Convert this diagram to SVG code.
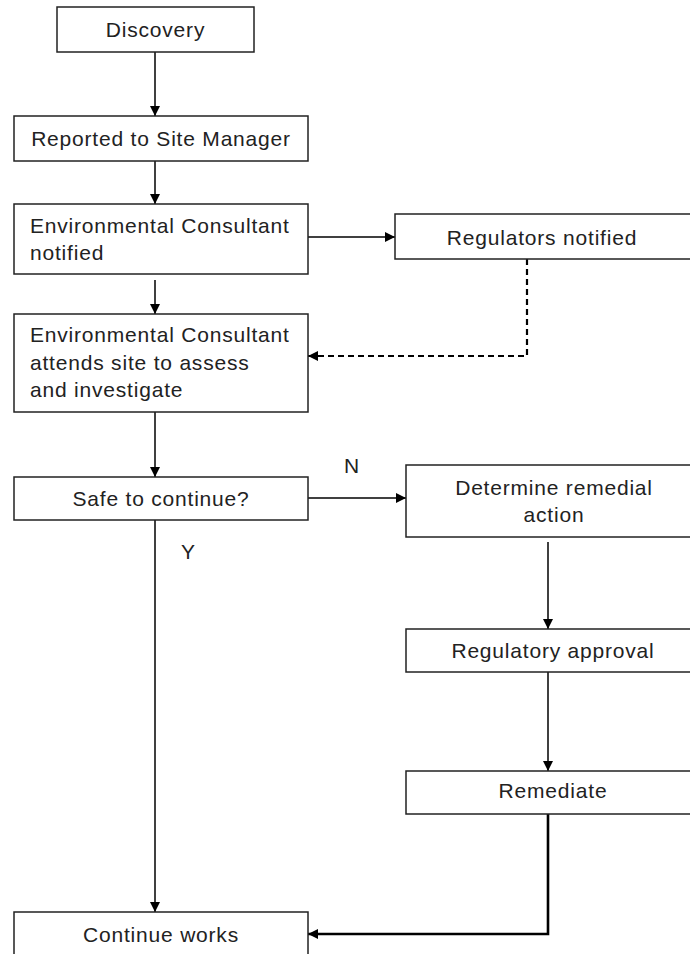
<svg xmlns="http://www.w3.org/2000/svg" width="690" height="954" viewBox="0 0 690 954">
<style>
.box{fill:#fff;stroke:#222;stroke-width:1.5}
.t{font-family:"Liberation Sans",Arial,sans-serif;font-size:21px;letter-spacing:0.8px;fill:#222}
.c{text-anchor:middle}
.ln{fill:none;stroke:#000;stroke-width:1.5}
.dash{stroke-width:2.2;stroke-dasharray:6 4}
.thick{stroke-width:2.6}
</style>
<defs>
<marker id="ah" viewBox="0 0 10 10" refX="10" refY="5" markerWidth="10" markerHeight="10" markerUnits="userSpaceOnUse" orient="auto">
<path d="M0,0 L10,5 L0,10 Z" fill="#000"/>
</marker>
</defs>
<rect width="690" height="954" fill="#fff"/>
<g id="connectors">
<path class="ln" d="M155,52 V116" marker-end="url(#ah)"/>
<path class="ln" d="M155,161 V204" marker-end="url(#ah)"/>
<path class="ln" d="M308,237 H395" marker-end="url(#ah)"/>
<path class="ln" d="M155,280 V314" marker-end="url(#ah)"/>
<path class="ln dash" d="M527,259 V356 H308" marker-end="url(#ah)"/>
<path class="ln" d="M155,412 V477" marker-end="url(#ah)"/>
<path class="ln" d="M308,498 H406" marker-end="url(#ah)"/>
<path class="ln" d="M155,520 V912" marker-end="url(#ah)"/>
<path class="ln" d="M548,542 V629" marker-end="url(#ah)"/>
<path class="ln" d="M548,672 V771" marker-end="url(#ah)"/>
<path class="ln thick" d="M548,814 V934 H308" marker-end="url(#ah)"/>
<text class="t" x="344" y="473">N</text>
<text class="t" x="181" y="559">Y</text>
</g>
<g id="discovery">
<rect class="box" x="57" y="7" width="197" height="45"/>
<text class="t c" x="155.5" y="37">Discovery</text>
</g>
<g id="reported">
<rect class="box" x="14" y="116" width="294" height="45"/>
<text class="t c" x="161" y="146">Reported to Site Manager</text>
</g>
<g id="env-notified">
<rect class="box" x="14" y="204" width="294" height="70"/>
<text class="t" x="30" y="233">Environmental Consultant</text>
<text class="t" x="30" y="260">notified</text>
</g>
<g id="regulators-notified">
<rect class="box" x="395" y="214" width="300" height="45"/>
<text class="t c" x="542" y="245">Regulators notified</text>
</g>
<g id="env-attends">
<rect class="box" x="14" y="314" width="294" height="98"/>
<text class="t" x="30" y="342">Environmental Consultant</text>
<text class="t" x="30" y="370">attends site to assess</text>
<text class="t" x="30" y="397">and investigate</text>
</g>
<g id="safe">
<rect class="box" x="14" y="477" width="294" height="43"/>
<text class="t c" x="161" y="506">Safe to continue?</text>
</g>
<g id="determine">
<rect class="box" x="406" y="465" width="290" height="72"/>
<text class="t c" x="554" y="495">Determine remedial</text>
<text class="t c" x="554" y="522">action</text>
</g>
<g id="regulatory-approval">
<rect class="box" x="406" y="629" width="290" height="43"/>
<text class="t c" x="553" y="658">Regulatory approval</text>
</g>
<g id="remediate">
<rect class="box" x="406" y="771" width="290" height="43"/>
<text class="t c" x="553" y="798">Remediate</text>
</g>
<g id="continue-works">
<rect class="box" x="14" y="912" width="294" height="50"/>
<text class="t c" x="161" y="942">Continue works</text>
</g>
</svg>
